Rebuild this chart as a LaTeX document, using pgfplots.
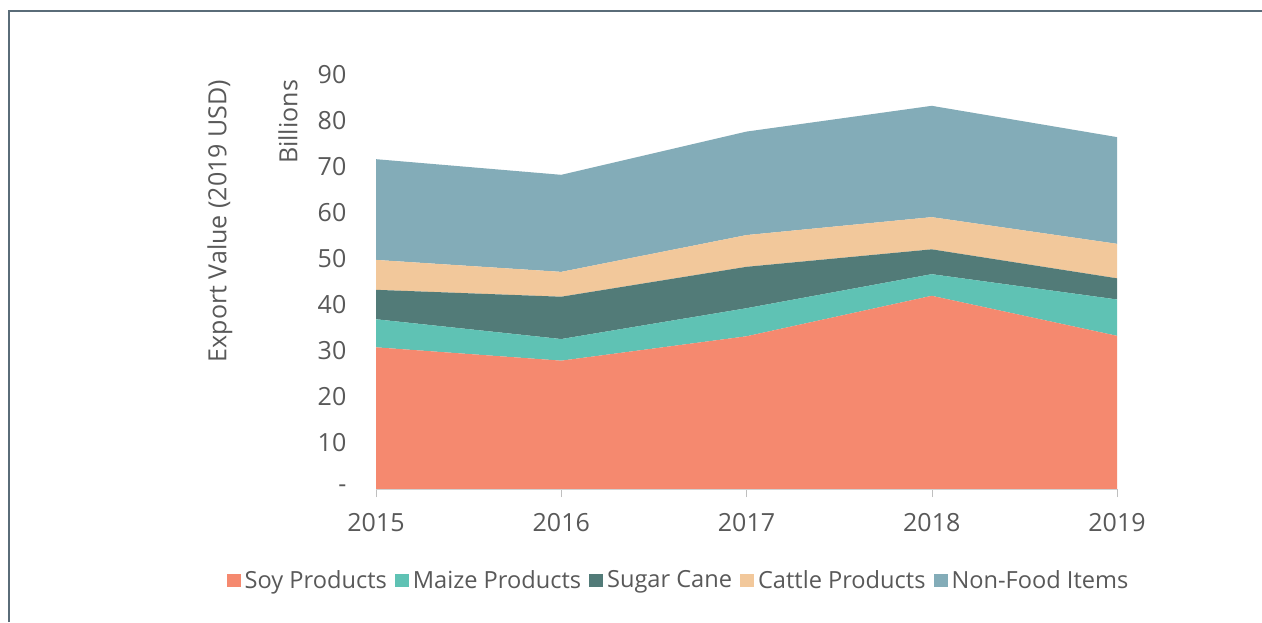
\documentclass[border=0pt]{standalone}
\usepackage{pgfplots}
\pgfplotsset{compat=1.18}
\usepackage{fontspec}
\setmainfont{Open Sans}
\definecolor{soy}{HTML}{F5896F}
\definecolor{maize}{HTML}{5FC2B4}
\definecolor{sugar}{HTML}{527B78}
\definecolor{cattle}{HTML}{F2C89B}
\definecolor{nonfood}{HTML}{83ACB8}
\definecolor{textc}{HTML}{595959}
\definecolor{framec}{HTML}{5A6C78}
\begin{document}
\fontsize{12.5}{15}\selectfont
\begin{tikzpicture}[x=1pt,y=1pt]
\fill[white] (0,0) rectangle (631,311);
\path[use as bounding box] (0,0) rectangle (631,311);
\draw[framec, line width=0.8pt] (4.5,0) -- (4.5,305.5) -- (631,305.5);
\node[rotate=90, text=textc] at (110,200.5) {Export Value (2019 USD)};
\node[rotate=90, text=textc] at (144,250) {Billions};
\begin{axis}[
  at={(188pt,66.5pt)}, anchor=south west,
  scale only axis, width=370.5pt, height=207pt,
  xmin=2015, xmax=2019, ymin=0, ymax=90,
  stack plots=y, area style,
  axis x line=bottom, axis y line=left,
  axis line style={-},
  x axis line style={draw=black!18},
  y axis line style={draw=none},
  xtick={2015,2016,2017,2018,2019},
  xticklabels={2015,2016,2017,2018,2019},
  ytick={0,10,...,90},
  yticklabels={-,10,20,30,40,50,60,70,80,90},
  xtick align=outside, major tick length=4pt,
  xtick style={draw=black!25},
  ytick style={draw=none},
  /pgf/number format/assume math mode=true,
  tick label style={font=\fontsize{12.5}{15}\selectfont, text=textc},
  yticklabel style={xshift=-8.5pt},
  xticklabel style={yshift=-4pt},
  legend style={draw=none, at={(0.4096,-0.222)}, anchor=center,
    legend columns=5, font=\fontsize{11.8}{14}\selectfont, text=textc,
    /tikz/every even column/.append style={column sep=2pt},
    inner sep=0pt},
  legend image code/.code={\fill[#1] (0pt,-3.25pt) rectangle (7pt,3.25pt);},
]
\addplot[fill=soy, draw=none] coordinates {(2015,30.8)(2016,27.9)(2017,33.2)(2018,42.0)(2019,33.3)} \closedcycle;
\addplot[fill=maize, draw=none] coordinates {(2015,6.1)(2016,4.7)(2017,6.1)(2018,4.7)(2019,7.9)} \closedcycle;
\addplot[fill=sugar, draw=none] coordinates {(2015,6.4)(2016,9.2)(2017,9.0)(2018,5.4)(2019,4.6)} \closedcycle;
\addplot[fill=cattle, draw=none] coordinates {(2015,6.5)(2016,5.4)(2017,6.9)(2018,7.0)(2019,7.5)} \closedcycle;
\addplot[fill=nonfood, draw=none] coordinates {(2015,21.9)(2016,21.1)(2017,22.5)(2018,24.2)(2019,23.2)} \closedcycle;
\legend{Soy Products, Maize Products, Sugar Cane, Cattle Products, Non-Food Items}
\end{axis}
\end{tikzpicture}
\end{document}
